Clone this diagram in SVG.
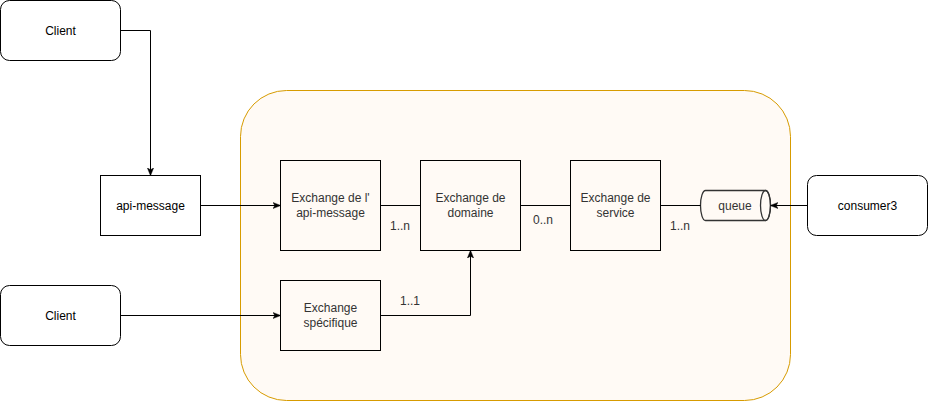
<svg xmlns="http://www.w3.org/2000/svg" width="928" height="401" viewBox="0 0 928 401">
<defs>
<style>
.box{fill:#fff;stroke:#000;stroke-width:1}
.inbox{fill:#fffaf5;stroke:#000;stroke-width:1}
.t{font-family:"Liberation Sans",Arial,sans-serif;font-size:12px;fill:#000;text-anchor:middle}
.ti{font-family:"Liberation Sans",Arial,sans-serif;font-size:12px;fill:#333;text-anchor:middle}
.lbl{font-family:"Liberation Sans",Arial,sans-serif;font-size:12px;fill:#333;text-anchor:middle}
.edge{fill:none;stroke:#000;stroke-width:1}
</style>
<marker id="arr" viewBox="0 0 10 10" refX="9" refY="5" markerWidth="8" markerHeight="8" markerUnits="userSpaceOnUse" orient="auto">
<path d="M0,1 L10,5 L0,9 L2.5,5 Z" fill="#000" stroke="#000" stroke-width="0.5"/>
</marker>
</defs>
<g id="container"><rect x="240.5" y="90.5" width="550" height="310" rx="46" ry="46" fill="#fffaf5" stroke="#d79b00" stroke-width="1"/></g>
<g id="client1"><rect class="box" x="0.5" y="0.5" width="120" height="60" rx="9"/><text class="t" x="60.5" y="34.5">Client</text></g>
<g id="api-message"><rect class="box" x="100.5" y="175.5" width="100" height="60"/><text class="t" x="150.5" y="209.5">api-message</text></g>
<g id="client2"><rect class="box" x="0.5" y="285.5" width="120" height="60" rx="9"/><text class="t" x="60.5" y="319.5">Client</text></g>
<g id="ex-api"><rect class="inbox" x="280.5" y="160.5" width="100" height="90"/><text class="ti" x="330.5" y="202">Exchange de l'</text><text class="ti" x="330.5" y="217">api-message</text></g>
<g id="ex-domaine"><rect class="inbox" x="420.5" y="160.5" width="100" height="90"/><text class="ti" x="470.5" y="202">Exchange de</text><text class="ti" x="470.5" y="217">domaine</text></g>
<g id="ex-service"><rect class="inbox" x="570.5" y="160.5" width="90" height="90"/><text class="ti" x="615.5" y="202">Exchange de</text><text class="ti" x="615.5" y="217">service</text></g>
<g id="ex-specifique"><rect class="inbox" x="280.5" y="280.5" width="100" height="70"/><text class="ti" x="330.5" y="312">Exchange</text><text class="ti" x="330.5" y="327">spécifique</text></g>
<g id="queue"><path d="M705.5,190.5 L765.5,190.5 A5,15 0 0 1 765.5,220.5 L705.5,220.5 A5,15 0 0 1 705.5,190.5 Z" fill="#fffaf5" stroke="#333" stroke-width="1.3"/><ellipse cx="765.5" cy="205.5" rx="5" ry="15" fill="none" stroke="#333" stroke-width="1.3"/><text class="ti" x="735" y="209.5">queue</text></g>
<g id="consumer3"><rect class="box" x="807.5" y="175.5" width="120" height="60" rx="9"/><text class="t" x="867.5" y="209.5">consumer3</text></g>
<g id="connectors">
<path class="edge" d="M120.5,30.5 L150.5,30.5 L150.5,175" marker-end="url(#arr)"/>
<path class="edge" d="M200.5,205.5 L280,205.5" marker-end="url(#arr)"/>
<path class="edge" d="M380.5,205.5 L420.5,205.5"/>
<path class="edge" d="M520.5,205.5 L570.5,205.5"/>
<path class="edge" d="M660.5,205.5 L700.5,205.5"/>
<path class="edge" d="M120.5,315.5 L280,315.5" marker-end="url(#arr)"/>
<path class="edge" d="M380.5,315.5 L470.5,315.5 L470.5,251" marker-end="url(#arr)"/>
<path class="edge" d="M807.5,205.5 L771,205.5" marker-end="url(#arr)"/>
<text class="lbl" x="400" y="229.5">1..n</text>
<text class="lbl" x="543" y="224">0..n</text>
<text class="lbl" x="680" y="229.5">1..n</text>
<text class="lbl" x="410" y="304.5">1..1</text>
</g>
</svg>
